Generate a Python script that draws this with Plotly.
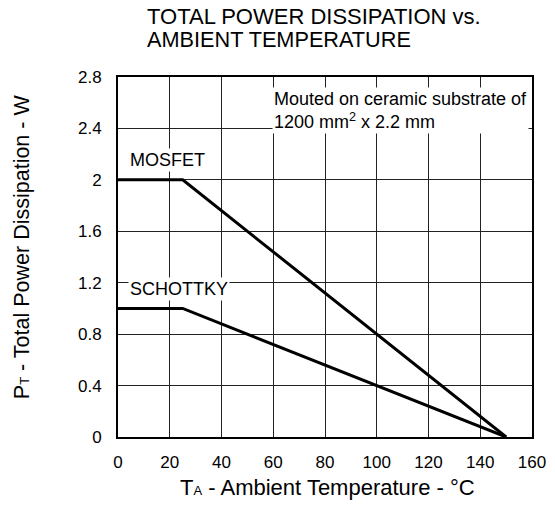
import plotly.graph_objects as go

# Data
temp_points = [0, 25, 150]
mosfet_power = [2.0, 2.0, 0.0]
schottky_power = [1.0, 1.0, 0.0]
x_ticks = [0, 20, 40, 60, 80, 100, 120, 140, 160]
y_ticks = [0, 0.4, 0.8, 1.2, 1.6, 2.0, 2.4, 2.8]
y_tick_text = ["0", "0.4", "0.8", "1.2", "1.6", "2", "2.4", "2.8"]

FONT = "Liberation Sans, Arial, sans-serif"

fig = go.Figure()
fig.add_trace(go.Scatter(x=temp_points, y=mosfet_power, mode="lines",
                         line=dict(color="black", width=3), name="MOSFET",
                         showlegend=False))
fig.add_trace(go.Scatter(x=temp_points, y=schottky_power, mode="lines",
                         line=dict(color="black", width=3), name="SCHOTTKY",
                         showlegend=False))

fig.update_layout(
    width=555, height=517,
    paper_bgcolor="white", plot_bgcolor="white",
    margin=dict(l=118, r=23, t=77, b=80, autoexpand=False),
    font=dict(family=FONT, size=17, color="black"),
    xaxis=dict(range=[0, 160], tickvals=x_ticks, ticks="", showline=True,
               linecolor="black", linewidth=2, mirror=True, automargin=False,
               showgrid=True, gridcolor="#222", gridwidth=1, zeroline=False,
               tickfont=dict(size=17), ticklabelstandoff=9),
    yaxis=dict(range=[0, 2.8], tickvals=y_ticks, ticktext=y_tick_text, ticks="",
               showline=True, linecolor="black", linewidth=2, mirror=True,
               automargin=False,
               showgrid=True, gridcolor="#222", gridwidth=1, zeroline=False,
               tickfont=dict(size=17), ticklabelstandoff=11),
    annotations=[
        # chart title (two lines, tight leading)
        dict(x=0.0652, y=1.1667, xref="paper", yref="paper", xanchor="left", yanchor="middle",
             text="TOTAL POWER DISSIPATION vs.", showarrow=False,
             font=dict(size=22, family=FONT)),
        dict(x=0.0652, y=1.1028, xref="paper", yref="paper", xanchor="left", yanchor="middle",
             text="AMBIENT TEMPERATURE", showarrow=False,
             font=dict(size=21.7, family=FONT)),
        # axis titles
        dict(x=0.505, y=-0.139, xref="paper", yref="paper", xanchor="center", yanchor="middle",
             text="T<span style='font-size:13px'>A</span> - Ambient Temperature - °C",
             showarrow=False, font=dict(size=22, family=FONT)),
        dict(x=-0.232, y=0.53, xref="paper", yref="paper", xanchor="center", yanchor="middle",
             text="P<span style='font-size:13px'>T</span> - Total Power Dissipation - W",
             showarrow=False, textangle=-90, font=dict(size=21.5, family=FONT)),
        # in-plot notes
        dict(x=0.372, y=0.908, xref="paper", yref="paper", xanchor="left", yanchor="middle",
             text="Mouted on ceramic substrate of<br>1200 mm<sup>2</sup> x 2.2 mm",
             showarrow=False, align="left", bgcolor="white",
             font=dict(size=18, family=FONT)),
        dict(x=3.9, y=2.154, xref="x", yref="y", xanchor="left", yanchor="middle",
             text="MOSFET", showarrow=False, bgcolor="white",
             font=dict(size=18, family=FONT)),
        dict(x=3.9, y=1.151, xref="x", yref="y", xanchor="left", yanchor="middle",
             text="SCHOTTKY", showarrow=False, bgcolor="white",
             font=dict(size=18, family=FONT)),
    ],
)

fig.write_html("out.html", config={"displayModeBar": False},
               post_script="document.body.style.margin='0px';document.body.style.overflow='hidden';")
